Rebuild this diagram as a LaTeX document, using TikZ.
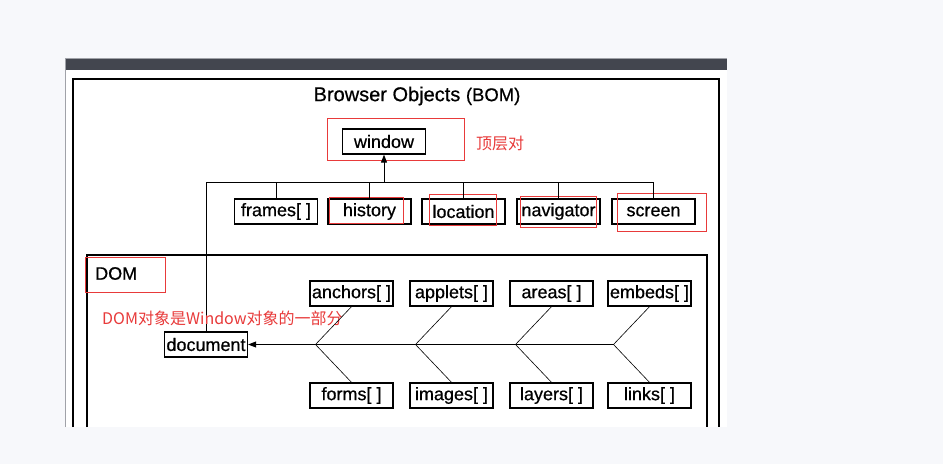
\documentclass[tikz,border=0pt]{standalone}
\usepackage{fontspec}
\setmainfont{Liberation Sans}
\newfontfamily\cjk{Noto Sans CJK SC}
\newfontfamily\boxfont[FakeBold=0.6]{Liberation Sans}
\usetikzlibrary{arrows.meta,calc}
\definecolor{pagebg}{RGB}{247,248,251}
\definecolor{barcol}{RGB}{67,70,79}
\definecolor{markred}{RGB}{232,58,58}
\definecolor{edgegray}{RGB}{160,162,168}
\tikzset{
  obj/.style={draw,line width=1.3pt,minimum width=83pt,minimum height=25pt,inner sep=0pt,font=\boxfont\fontsize{18}{20}\selectfont},
  redbox/.style={draw=markred,line width=1pt},
  note/.style={text=markred,font=\cjk\fontsize{16}{18}\selectfont,inner sep=0pt,anchor=west},
  tip/.style={-{Triangle[length=8pt,width=6pt]}}
}
\begin{document}
\begin{tikzpicture}[x=1pt,y=-1pt]
            \fill[pagebg] (0,0) rectangle (943,464);
            \useasboundingbox (0,0) rectangle (943,464);
            \fill[white] (65,58) rectangle (727,427);
            \fill[barcol] (65,58) rectangle (727,70);
            \draw[edgegray,line width=1pt] (65,427) -- (65,58) -- (727,58);
            \draw[line width=1.3pt] (73,427) |- (719,79) -- (719,427);
            \draw[line width=1.3pt] (87,427) |- (707,255) -- (707,427);
            \node[font=\boxfont\fontsize{20}{24}\selectfont] (title) at (417,96) {Browser Objects {\fontsize{18.5}{24}\selectfont(BOM)}};
            \node[obj] (win) at (384,141.5) {window};
            \draw[redbox] (327,118) rectangle (464,160);
            \node[note] (top) at (476,143) {顶层对};
            \foreach \nm/\x/\txt in {frames/276/{frames[ ]},history/369.5/history,location/463.5/location,navigator/558.5/navigator,screen/653.5/screen}
            \node[obj] (\nm) at (\x,211.5) {\txt};
            \draw[redbox] (329,197) rectangle (403,223);
            \draw[redbox] (429,194) rectangle (496,225);
            \draw[redbox] (520,196) rectangle (596,227);
            \draw[redbox] (617,193) rectangle (706,231);
            \node[obj] (doc) at (206,344.5) {document};
            \coordinate (busR) at (653.5,182);
            \draw[line width=1pt] (doc.north) |- (busR);
            \foreach \nm in {frames,history,location,navigator,screen}
            \draw[line width=1pt] (\nm.north) -- (\nm.north |- busR);
            \draw[tip,line width=1pt] (win.south |- busR) -- (win.south);
            \node[font=\boxfont\fontsize{18}{20}\selectfont,anchor=west,inner sep=0pt] (dom) at (95,273.5) {DOM};
            \draw[redbox] (85,257) rectangle (165,292);
            \node[note] (domnote) at (102,318) {DOM对象是Window对象的一部分};
            \foreach \nm/\x/\txt in {anchors/351.5/{anchors[ ]},applets/451.5/{applets[ ]},areas/551.5/{areas[ ]},embeds/649.5/{embeds[ ]}}
            \node[obj] (\nm) at (\x,293.5) {\txt};
            \foreach \nm/\x/\txt in {forms/351.5/{forms[ ]},images/451.5/{images[ ]},layers/551.5/{layers[ ]},links/649.5/{links[ ]}}
            \node[obj] (\nm) at (\x,395.5) {\txt};
            \foreach \up/\dn in {anchors/forms,applets/images,areas/layers,embeds/links}
            \draw[line width=0.6pt] (\up.south) -- ($(\up.south)!.5!(\dn.north)+(-36,0)$) -- (\dn.north);
            \draw[tip,line width=1pt] ($(embeds.south)!.5!(links.north)+(-36,0)$) -- (doc);
        \end{tikzpicture}
\end{document}
